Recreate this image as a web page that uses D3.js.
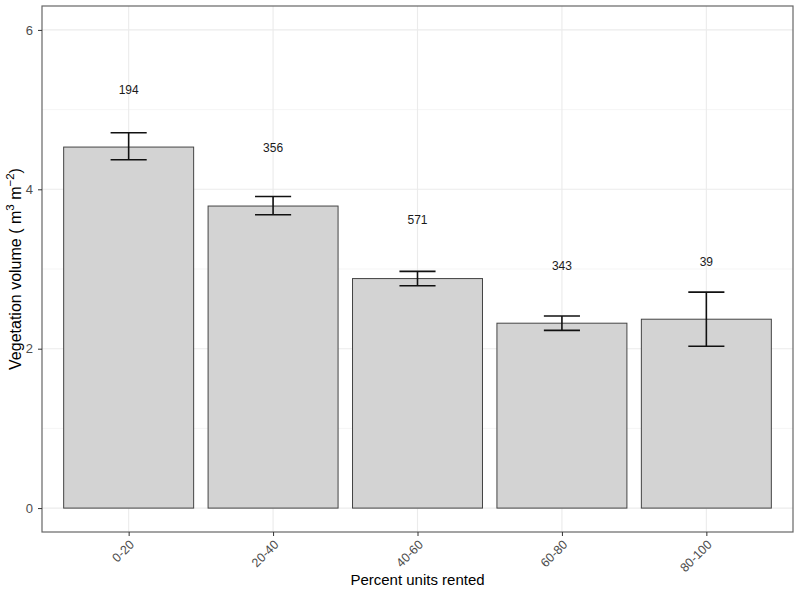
<!DOCTYPE html>
<html><head><meta charset="utf-8">
<script src="https://cdn.jsdelivr.net/npm/d3@7"></script>
<style>body{margin:0;background:#fff}svg{display:block;font-family:"Liberation Sans",Arial,sans-serif}</style>
</head><body><svg id="c" width="800" height="600"></svg>
<script>
const categories = ["0-20","20-40","40-60","60-80","80-100"];
const means = [4.53, 3.79, 2.88, 2.32, 2.37];
const errLow = [4.37, 3.68, 2.79, 2.23, 2.03];
const errHigh = [4.71, 3.91, 2.97, 2.41, 2.71];
const counts = ["194","356","571","343","39"];
const labelY = [5.25, 4.52, 3.61, 3.04, 3.09];
const yTicks = [0, 2, 4, 6];
const yMinor = [1, 3, 5];

const svg = d3.select("#c");
const L = 42, R = 793, T = 6, B = 532;
const x = d3.scaleLinear().domain([0.4, 5.6]).range([L, R]);
const y = d3.scaleLinear().domain([-0.3, 6.3]).range([B, T]);
const step = x(2) - x(1);

const g = svg.append("g");
// grid
g.selectAll(".gmin").data(yMinor).join("line").attr("x1", L).attr("x2", R)
  .attr("y1", d => y(d)).attr("y2", d => y(d)).attr("stroke", "#f2f2f2").attr("stroke-width", 0.8);
g.selectAll(".gmaj").data(yTicks).join("line").attr("x1", L).attr("x2", R)
  .attr("y1", d => y(d)).attr("y2", d => y(d)).attr("stroke", "#ebebeb").attr("stroke-width", 1.1);
g.selectAll(".gx").data(categories).join("line").attr("y1", T).attr("y2", B)
  .attr("x1", (d, i) => x(i + 1)).attr("x2", (d, i) => x(i + 1)).attr("stroke", "#ebebeb").attr("stroke-width", 1.1);

// bars
g.selectAll(".bar").data(means).join("rect")
  .attr("x", (d, i) => x(i + 1) - step * 0.45).attr("width", step * 0.9)
  .attr("y", d => y(d)).attr("height", d => y(0) - y(d))
  .attr("fill", "#d3d3d3").attr("stroke", "#444").attr("stroke-width", 1);

// error bars
const eb = g.selectAll(".eb").data(categories).join("g").attr("stroke", "#111").attr("stroke-width", 1.6);
eb.append("line").attr("x1", (d, i) => x(i + 1)).attr("x2", (d, i) => x(i + 1))
  .attr("y1", (d, i) => y(errLow[i])).attr("y2", (d, i) => y(errHigh[i]));
eb.append("line").attr("x1", (d, i) => x(i + 1) - step * 0.125).attr("x2", (d, i) => x(i + 1) + step * 0.125)
  .attr("y1", (d, i) => y(errLow[i])).attr("y2", (d, i) => y(errLow[i]));
eb.append("line").attr("x1", (d, i) => x(i + 1) - step * 0.125).attr("x2", (d, i) => x(i + 1) + step * 0.125)
  .attr("y1", (d, i) => y(errHigh[i])).attr("y2", (d, i) => y(errHigh[i]));

// count labels
g.selectAll(".lab").data(counts).join("text")
  .attr("x", (d, i) => x(i + 1)).attr("y", (d, i) => y(labelY[i]))
  .attr("text-anchor", "middle").attr("dominant-baseline", "central")
  .attr("font-size", 12).attr("fill", "#1a1a1a").text(d => d);

// panel border
svg.append("rect").attr("x", L).attr("y", T).attr("width", R - L).attr("height", B - T)
  .attr("fill", "none").attr("stroke", "#666").attr("stroke-width", 1.2);

// y axis
const ya = svg.append("g").attr("transform", `translate(${L},0)`)
  .call(d3.axisLeft(y).tickValues(yTicks).tickSize(4).tickPadding(5).tickFormat(d3.format("d")));
ya.select(".domain").remove();
ya.selectAll("line").attr("stroke", "#333");
ya.selectAll("text").attr("font-size", 13).attr("fill", "#4d4d4d").style("font-family", "Liberation Sans, Arial, sans-serif");

// x axis
const xa = svg.append("g").attr("transform", `translate(0,${B})`)
  .call(d3.axisBottom(x).tickValues([1,2,3,4,5]).tickSize(4).tickFormat((d) => categories[d - 1]));
xa.select(".domain").remove();
xa.selectAll("line").attr("stroke", "#333");
xa.selectAll("text").attr("font-size", 12.5).attr("fill", "#4d4d4d")
  .style("font-family", "Liberation Sans, Arial, sans-serif")
  .attr("text-anchor", "end").attr("dy", null).attr("y", 0)
  .attr("dominant-baseline", "middle")
  .attr("transform", "translate(3.5,11) rotate(-45)");

// titles
svg.append("text").attr("x", (L + R) / 2).attr("y", 585).attr("text-anchor", "middle")
  .attr("font-size", 15).attr("fill", "#000").text("Percent units rented");
const yt = svg.append("text").attr("transform", `translate(21,${(T + B) / 2}) rotate(-90)`)
  .attr("text-anchor", "middle").attr("font-size", 16).attr("fill", "#000");
yt.append("tspan").text("Vegetation volume ( m");
yt.append("tspan").attr("dy", -7).attr("font-size", 11.5).text("3");
yt.append("tspan").attr("dy", 7).text(" m");
yt.append("tspan").attr("dy", -7).attr("font-size", 11.5).text("−2");
yt.append("tspan").attr("dy", 7).text(")");
</script></body></html>
